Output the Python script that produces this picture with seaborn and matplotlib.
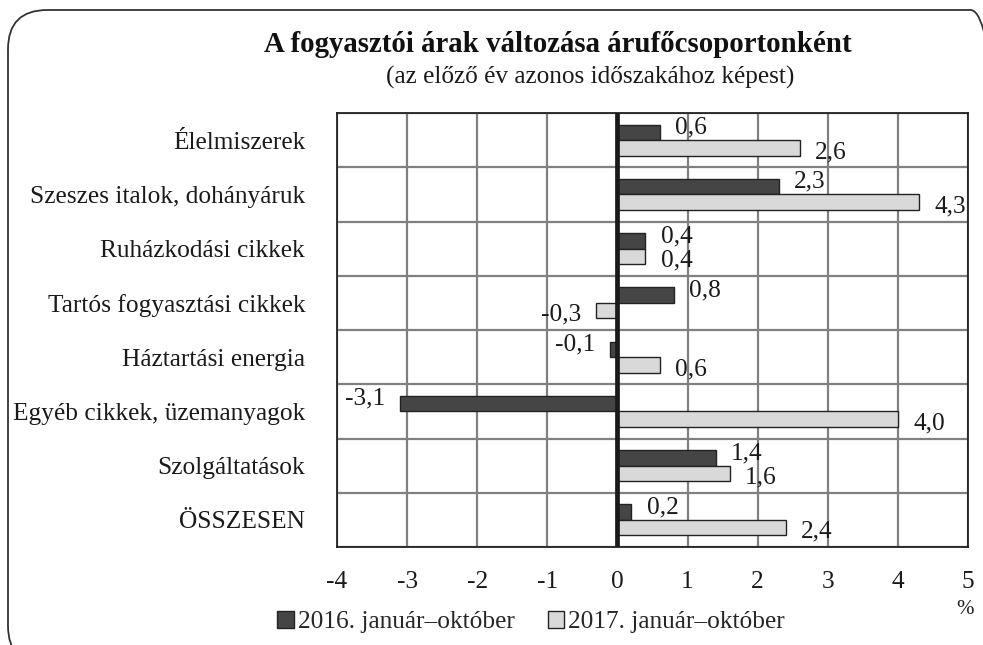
import numpy as np
import pandas as pd
import seaborn as sns
import matplotlib
matplotlib.use("Agg")
import matplotlib.pyplot as plt
from matplotlib.patches import FancyBboxPatch

categories = ["Élelmiszerek", "Szeszes italok, dohányáruk", "Ruházkodási cikkek",
              "Tartós fogyasztási cikkek", "Háztartási energia",
              "Egyéb cikkek, üzemanyagok", "Szolgáltatások", "ÖSSZESEN"]
series_names = ["2016. január–október", "2017. január–október"]
values_2016 = [0.6, 2.3, 0.4, 0.8, -0.1, -3.1, 1.4, 0.2]
values_2017 = [2.6, 4.3, 0.4, -0.3, 0.6, 4.0, 1.6, 2.4]
x_ticks = [-4, -3, -2, -1, 0, 1, 2, 3, 4, 5]
title = "A fogyasztói árak változása árufőcsoportonként"
subtitle = "(az előző év azonos időszakához képest)"

df = pd.DataFrame({
    "cat": categories * 2,
    "val": values_2016 + values_2017,
    "series": [series_names[0]] * len(categories) + [series_names[1]] * len(categories),
})

sns.set_theme(style="white")
plt.rcParams["font.family"] = ["Liberation Serif", "DejaVu Serif"]

W, H = 983, 645
FS = 18.3
fig = plt.figure(figsize=(W / 100, H / 100), dpi=100)
ax = fig.add_axes([337 / W, (H - 547) / H, 631 / W, 434 / H])

dark, light = "#454545", "#d9d9d9"
sns.barplot(data=df, y="cat", x="val", hue="series", order=categories,
            hue_order=series_names, orient="h", palette=[dark, light],
            width=0.57, gap=0, edgecolor="#222222", linewidth=1.0, ax=ax,
            saturation=1)

ax.set_xlim(-4, 5)
ax.set_xticks(x_ticks)
ax.set_xticklabels([str(t) for t in x_ticks])
ax.set_yticks(np.arange(-0.5, len(categories), 1), minor=True)
ax.set_ylim(len(categories) - 0.5, -0.5)
ax.grid(False)
ax.grid(which="major", axis="x", color="#808080", linewidth=1.6, zorder=0)
ax.grid(which="minor", axis="y", color="#808080", linewidth=1.6, zorder=0)
ax.set_axisbelow(True)
ax.axvline(0, color="#1a1a1a", linewidth=3.4, zorder=5)
for s in ax.spines.values():
    s.set_visible(True)
    s.set_color("#222222")
    s.set_linewidth(1.3)
ax.set_xlabel("")
ax.set_ylabel("")
ax.tick_params(axis="both", which="both", length=0, labelsize=FS, colors="#1a1a1a")
ax.tick_params(axis="y", pad=23)
ax.tick_params(axis="x", pad=17)

for i, cont in enumerate(ax.containers):
    labels = [f"{v:.1f}".replace(".", ",") for v in cont.datavalues]
    texts = ax.bar_label(cont, labels=labels, padding=11, fontsize=FS, color="#1a1a1a")
    dy = 3.5 if i == 0 else -3.0
    for t in texts:
        x0, y0 = t.xyann
        t.xyann = (x0, y0 + dy)

sns.move_legend(ax, loc="center", bbox_to_anchor=(531 / W, 1 - 622 / H),
                bbox_transform=fig.transFigure, ncol=2, frameon=False, title=None,
                fontsize=FS, handlelength=0.65, handleheight=0.65,
                handletextpad=0.15, columnspacing=1.3)

fig.text(558 / W, 1 - 45 / H, title, ha="center", va="center", fontsize=20.8,
         fontweight="bold", color="#111111")
fig.text(590 / W, 1 - 77 / H, subtitle, ha="center", va="center", fontsize=18.2,
         color="#1a1a1a")
fig.text(965 / W, 1 - 610 / H, "%", ha="center", va="center", fontsize=15, color="#1a1a1a")
fig.text(0.995, 1.008, "19. ábra", ha="right", va="center", fontsize=15, color="#1a1a1a")

frame = FancyBboxPatch((8 / W, -20 / H), (1010 - 8) / W, (635 + 20) / H,
                       boxstyle="round,pad=0,rounding_size=0.04",
                       transform=fig.transFigure, fill=False,
                       edgecolor="#333333", linewidth=1.3, mutation_aspect=W / H)
fig.patches.append(frame)

fig.savefig("out.png", dpi=100)
